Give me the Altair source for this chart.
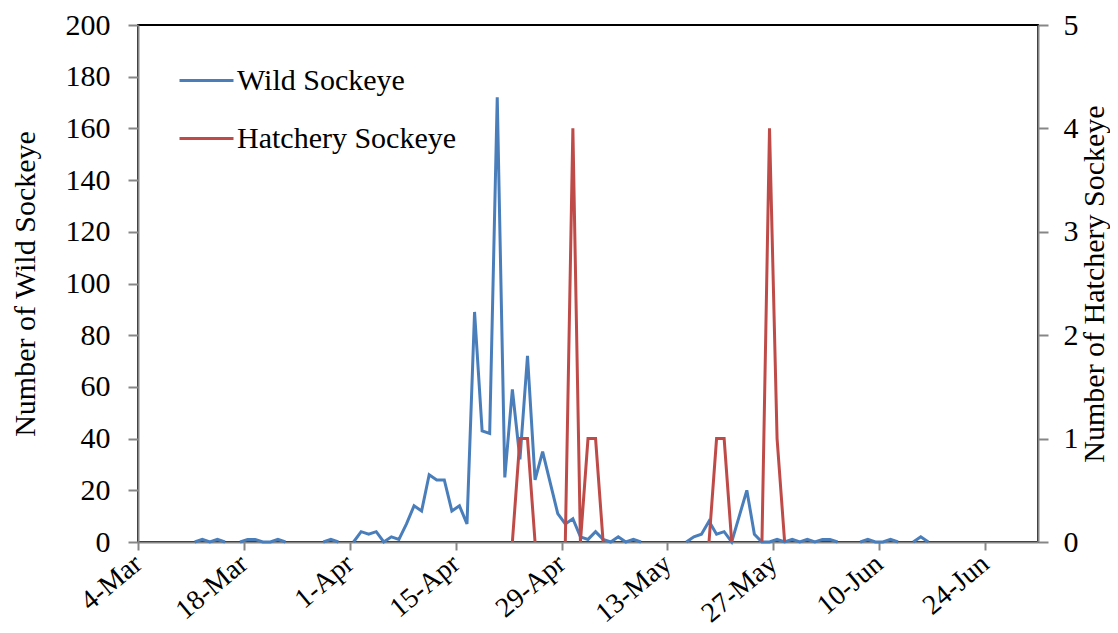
import altair as alt
import pandas as pd

# Axis tick labels (day offsets from 4-Mar)
tick_days = [0, 14, 28, 42, 56, 70, 84, 98, 112]
tick_labels = ["4-Mar", "18-Mar", "1-Apr", "15-Apr", "29-Apr", "13-May", "27-May", "10-Jun", "24-Jun"]

# Daily counts; None = no sample (line breaks)
wild_start = 7  # 11-Mar
wild_counts = [
    0, 1, 0, 1, 0,
    None,
    0, 1, 1, 0, 0, 1, 0,
    None, None, None, None,
    0, 1, 0,
    None,
    0, 4, 3, 4, 0, 2, 1, 7, 14, 12, 26, 24, 24, 12, 14, 7, 89, 43, 42, 172, 25, 59, 32, 72,
    24, 35, 23, 11, 7, 9, 2, 1, 4, 1, 0, 2, 0, 1, 0,
    None, None, None, None, None,
    0, 2, 3, 8, 3, 4, 0, 10, 20, 3, 0, 0, 1, 0, 1, 0, 1, 0, 1, 1, 0,
    None, None,
    0, 1, 0, 0, 1, 0,
    None,
    0, 2, 0,
]

hatch_start = 49  # 22-Apr
hatch_counts = [
    0, 1, 1, 0,
    None, None, None,
    0, 4, 0, 1, 1, 0,
    None, None, None, None, None, None, None, None, None, None, None, None, None,
    0, 1, 1, 0,
    None, None, None,
    0, 4, 1, 0,
]

series_names = ["Wild Sockeye", "Hatchery Sockeye"]
series_colors = ["#4A7EBB", "#BE4B48"]


def to_frame(start, counts, name):
    rows = []
    seg = 0
    in_run = False
    for i, v in enumerate(counts):
        if v is None:
            in_run = False
            continue
        if not in_run:
            seg += 1
        in_run = True
        rows.append({"day": start + i + 0.5, "value": v, "seg": seg, "series": name})
    return pd.DataFrame(rows)


wild_df = to_frame(wild_start, wild_counts, series_names[0])
hatch_df = to_frame(hatch_start, hatch_counts, series_names[1])

FONT = "Liberation Serif"
label_arr = "[" + ",".join("'%s'" % s for s in tick_labels) + "]"

x_enc = alt.X(
    "day:Q",
    scale=alt.Scale(domain=[0, 119], nice=False, zero=False),
    axis=alt.Axis(
        values=tick_days,
        labelExpr=label_arr + "[round(datum.value/14)]",
        labelAngle=-40,
        labelAlign="right",
        labelBaseline="middle",
        labelPadding=10,
        labelFontSize=28,
        tickSize=8,
        title=None,
    ),
)

color_enc = alt.Color(
    "series:N",
    scale=alt.Scale(domain=series_names, range=series_colors),
    legend=alt.Legend(
        orient="none",
        legendX=40,
        legendY=27,
        title=None,
        symbolType="stroke",
        symbolSize=2916,
        symbolStrokeWidth=3,
        labelFont=FONT,
        labelFontSize=30,
        labelColor="black",
        labelOffset=2,
        labelLimit=0,
        rowPadding=14,
    ),
)

wild = alt.Chart(wild_df).mark_line(strokeWidth=3).encode(
    x=x_enc,
    y=alt.Y(
        "value:Q",
        scale=alt.Scale(domain=[0, 200], nice=False),
        axis=alt.Axis(
            orient="left",
            values=list(range(0, 201, 20)),
            tickSize=10,
            labelPadding=18,
            title="Number of Wild Sockeye",
            titleAngle=-90,
            titleX=-113,
            titleY=258.5,
            titleAlign="center",
            titleBaseline="middle",
        ),
    ),
    color=color_enc,
    detail="seg:N",
)

hatch = alt.Chart(hatch_df).mark_line(strokeWidth=3).encode(
    x=x_enc,
    y=alt.Y(
        "value:Q",
        scale=alt.Scale(domain=[0, 5], nice=False),
        axis=alt.Axis(
            orient="right",
            values=[0, 1, 2, 3, 4, 5],
            tickSize=10,
            labelPadding=15,
            title="Number of Hatchery Sockeye",
            titleAngle=-90,
            titleX=56,
            titleY=258.5,
            titleAlign="center",
            titleBaseline="middle",
        ),
    ),
    color=color_enc,
    detail="seg:N",
)

chart = (
    alt.layer(wild, hatch)
    .resolve_scale(y="independent")
    .properties(
        width=900,
        height=517,
        autosize=alt.AutoSizeParams(type="none"),
        padding={"left": 130, "top": 17, "right": 72, "bottom": 90},
    )
    .configure_view(stroke="black", strokeWidth=2)
    .configure_axis(
        grid=False,
        domainColor="#868686",
        domainWidth=2,
        tickColor="#868686",
        tickWidth=2,
        labelFont=FONT,
        labelFontSize=30,
        labelColor="black",
        titleFont=FONT,
        titleFontSize=30,
        titleFontWeight="normal",
        titleColor="black",
    )
)

chart.save("out.html", embed_options={"renderer": "svg", "actions": False})
